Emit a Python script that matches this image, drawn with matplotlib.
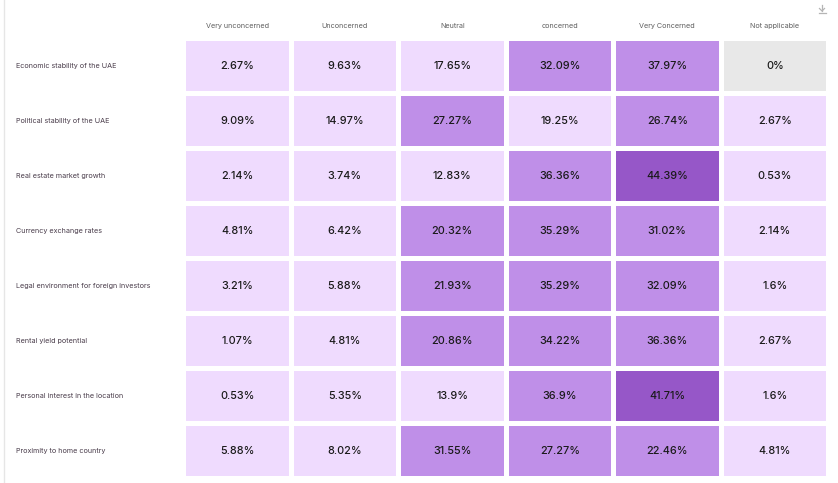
import numpy as np
import matplotlib.pyplot as plt
from matplotlib.patches import Rectangle
from matplotlib.transforms import blended_transform_factory

# answer categories (columns) and topics (rows)
columns = ['Very unconcerned', 'Unconcerned', 'Neutral', 'concerned', 'Very Concerned', 'Not applicable']
rows = ['Economic stability of the UAE', 'Political stability of the UAE', 'Real estate market growth',
        'Currency exchange rates', 'Legal environment for foreign investors', 'Rental yield potential',
        'Personal interest in the location', 'Proximity to home country']

very_unconcerned = [2.67, 9.09, 2.14, 4.81, 3.21, 1.07, 0.53, 5.88]
unconcerned = [9.63, 14.97, 3.74, 6.42, 5.88, 4.81, 5.35, 8.02]
neutral = [17.65, 27.27, 12.83, 20.32, 21.93, 20.86, 13.9, 31.55]
concerned = [32.09, 19.25, 36.36, 35.29, 35.29, 34.22, 36.9, 27.27]
very_concerned = [37.97, 26.74, 44.39, 31.02, 32.09, 36.36, 41.71, 22.46]
not_applicable = [0, 2.67, 0.53, 2.14, 1.6, 2.67, 1.6, 4.81]

values = np.array([very_unconcerned, unconcerned, neutral, concerned, very_concerned, not_applicable]).T


def cell_color(v):
    if v == 0:
        return '#e8e8e8'
    if v < 20:
        return '#efdbfe'
    if v < 40:
        return '#bf8fe8'
    return '#9657c8'


def fmt(v):
    return '{:g}%'.format(v)


plt.rcParams['font.family'] = ['Inter', 'DejaVu Sans']

W, H = 838, 483
fig = plt.figure(figsize=(W / 100, H / 100), dpi=100)

# cell grid area in pixels
left, right, top, bottom = 186, 831, 41, 481
ax = fig.add_axes([left / W, 1 - bottom / H, (right - left) / W, (bottom - top) / H])
ax.set_xlim(0, len(columns))
ax.set_ylim(len(rows), 0)
ax.axis('off')

gx = 5 / ((right - left) / len(columns))
gy = 5 / ((bottom - top) / len(rows))

for i in range(len(rows)):
    for j in range(len(columns)):
        v = values[i, j]
        ax.add_patch(Rectangle((j, i), 1 - gx, 1 - gy, facecolor=cell_color(v), edgecolor='none'))
        ax.text(j + (1 - gx) / 2, i + (1 - gy) / 2, fmt(v), ha='center', va='center',
                fontsize=7.8, color='#1a1a1a', fontweight='medium')

for j, c in enumerate(columns):
    ax.text(j + (1 - gx) / 2, -0.27, c, ha='center', va='center', fontsize=5.2, color='#5f5f5f',
            clip_on=False)

tr = blended_transform_factory(fig.transFigure, ax.transData)
for i, r in enumerate(rows):
    ax.text(16 / W, i + (1 - gy) / 2, r, ha='left', va='center', fontsize=5.2, color='#4a3d4b',
            transform=tr, clip_on=False)

# thin left border
fig.add_artist(plt.Line2D([3.5 / W, 3.5 / W], [0, 1], color='#e6e6e6', lw=1))

# small download icon drawn as a shape (arrow over a bar)
ix, iy = 822 / W, 1 - 9 / H
fig.add_artist(plt.Line2D([ix, ix], [iy + 4 / H, iy - 2 / H], color='#b5b5b5', lw=0.9))
fig.add_artist(plt.Line2D([ix - 2.5 / W, ix, ix + 2.5 / W], [iy + 0.5 / H, iy - 2 / H, iy + 0.5 / H],
                          color='#b5b5b5', lw=0.9))
fig.add_artist(plt.Line2D([ix - 3.5 / W, ix + 3.5 / W], [iy - 4 / H, iy - 4 / H], color='#b5b5b5', lw=0.9))

fig.savefig('out.png', dpi=100)
